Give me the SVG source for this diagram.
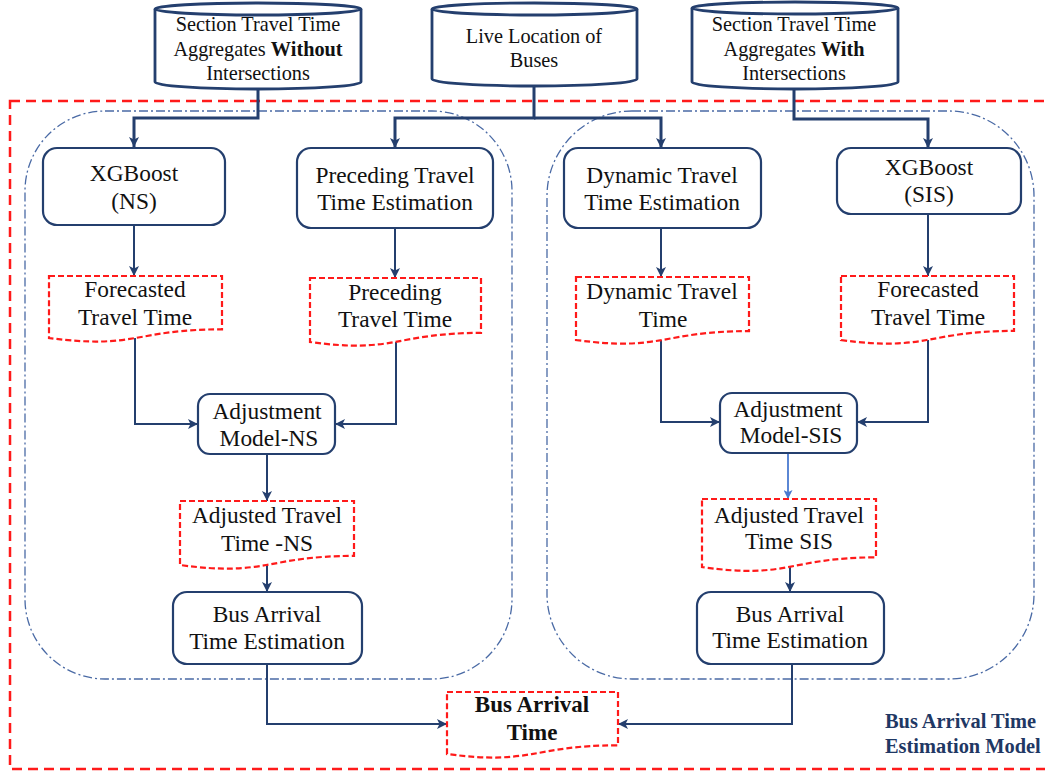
<svg xmlns="http://www.w3.org/2000/svg" width="1045" height="774" viewBox="0 0 1045 774" font-family="'Liberation Serif', 'DejaVu Serif', serif">
<defs>
<style>
.cyl{fill:#fff;stroke:#243f6e;stroke-width:2.8}
.box{fill:#fff;stroke:#243f6e;stroke-width:2.2}
.doc{fill:#fff;stroke:#ff1a1a;stroke-width:2.2;stroke-dasharray:6 3}
.outer{fill:none;stroke:#ff1a1a;stroke-width:2.5;stroke-dasharray:10 6}
.grp{fill:none;stroke:#4a6aa5;stroke-width:1.3;stroke-dasharray:9 3 2 3}
.c{fill:none;stroke:#243f6e;stroke-width:2}
.ct{fill:none;stroke:#243f6e;stroke-width:3}
.cb{fill:none;stroke:#4a7ad0;stroke-width:1.8}
text{font-family:'Liberation Serif','DejaVu Serif',serif;fill:#111;text-anchor:middle}
.t20{font-size:20.3px}
.t23{font-size:23.4px}
.tb{font-size:23px;font-weight:bold}
.b{font-weight:bold}
.lab{font-size:20.4px;font-weight:bold;fill:#1f3864;text-anchor:start}
</style>
<marker id="ah" viewBox="0 0 10 10" refX="10" refY="5" markerWidth="10" markerHeight="10" markerUnits="userSpaceOnUse" orient="auto">
<path d="M0,0 L10,5 L0,10 L2.5,5 Z" fill="#243f6e"/>
</marker>
<marker id="ahb" viewBox="0 0 10 10" refX="10" refY="5" markerWidth="9" markerHeight="9" markerUnits="userSpaceOnUse" orient="auto">
<path d="M0,0 L10,5 L0,10 L2.5,5 Z" fill="#4a7ad0"/>
</marker>
</defs>
<rect width="1045" height="774" fill="#fff"/>

<g id="containers">
<rect class="outer" x="10" y="101" width="1040" height="668"/>
<rect id="group-ns" class="grp" x="25" y="111" width="487" height="568" rx="80" ry="80"/>
<rect id="group-sis" class="grp" x="547" y="111" width="487" height="568" rx="85" ry="85"/>
</g>

<g id="connectors">
<path class="ct" d="M258,89 V118 H134 V147" marker-end="url(#ah)"/>
<path class="ct" d="M534,85 V118 H395 V148" marker-end="url(#ah)"/>
<path class="ct" d="M534,118 H661 V148" marker-end="url(#ah)"/>
<path class="ct" d="M794,88 V119 H928 V148" marker-end="url(#ah)"/>
<path class="c" d="M134,225 V276" marker-end="url(#ah)"/>
<path class="c" d="M395,228 V278" marker-end="url(#ah)"/>
<path class="c" d="M661,228 V277" marker-end="url(#ah)"/>
<path class="c" d="M928,214 V276" marker-end="url(#ah)"/>
<path class="c" d="M135,338 V424 H198" marker-end="url(#ah)"/>
<path class="c" d="M396,342 V424 H335" marker-end="url(#ah)"/>
<path class="c" d="M661,340 V422 H720" marker-end="url(#ah)"/>
<path class="c" d="M928,340 V422 H857" marker-end="url(#ah)"/>
<path class="c" d="M267,454 V501" marker-end="url(#ah)"/>
<path class="cb" d="M788,453 V499" marker-end="url(#ahb)"/>
<path class="c" d="M267,565 V592" marker-end="url(#ah)"/>
<path class="c" d="M790,567 V592" marker-end="url(#ah)"/>
<path class="c" d="M267,664 V724 H447" marker-end="url(#ah)"/>
<path class="c" d="M792,664 V724 H618" marker-end="url(#ah)"/>
</g>

<g id="db-without">
<path class="cyl" d="M155,9 V82 A103,7 0 0 0 361,82 V9"/>
<ellipse class="cyl" cx="258" cy="9" rx="103" ry="6"/>
<text class="t20" x="258" y="31">Section Travel Time</text>
<text class="t20" x="258" y="56">Aggregates <tspan class="b">Without</tspan></text>
<text class="t20" x="258" y="80">Intersections</text>
</g>

<g id="db-live">
<path class="cyl" d="M432,9 V79 A102.5,7 0 0 0 637,79 V9"/>
<ellipse class="cyl" cx="534.5" cy="9" rx="102.5" ry="6"/>
<text class="t20" x="534" y="43">Live Location of</text>
<text class="t20" x="534" y="67">Buses</text>
</g>

<g id="db-with">
<path class="cyl" d="M692,8 V82 A103,7 0 0 0 898,82 V8"/>
<ellipse class="cyl" cx="795" cy="8" rx="103" ry="6"/>
<text class="t20" x="794" y="31">Section Travel Time</text>
<text class="t20" x="794" y="56">Aggregates <tspan class="b">With</tspan></text>
<text class="t20" x="794" y="80">Intersections</text>
</g>

<g id="xgb-ns">
<rect class="box" x="43" y="148" width="182" height="77" rx="14"/>
<text class="t23" x="134" y="181">XGBoost</text>
<text class="t23" x="134" y="209">(NS)</text>
</g>

<g id="preceding-est">
<rect class="box" x="297" y="148" width="196" height="80" rx="14"/>
<text class="t23" x="395" y="183">Preceding Travel</text>
<text class="t23" x="395" y="210">Time Estimation</text>
</g>

<g id="dynamic-est">
<rect class="box" x="564" y="148" width="197" height="80" rx="14"/>
<text class="t23" x="662" y="183">Dynamic Travel</text>
<text class="t23" x="662" y="210">Time Estimation</text>
</g>

<g id="xgb-sis">
<rect class="box" x="837" y="148" width="184" height="66" rx="14"/>
<text class="t23" x="929" y="175">XGBoost</text>
<text class="t23" x="929" y="202">(SIS)</text>
</g>

<g id="forecast-ns">
<path class="doc" d="M49,276 H222 V329.3 C135.5,329.3 135.5,349.5 49,338 Z"/>
<text class="t23" x="135" y="297">Forecasted</text>
<text class="t23" x="135" y="325">Travel Time</text>
</g>

<g id="preceding-tt">
<path class="doc" d="M310,278 H481 V332.9 C395.5,332.9 395.5,353.8 310,342 Z"/>
<text class="t23" x="395" y="300">Preceding</text>
<text class="t23" x="395" y="327">Travel Time</text>
</g>

<g id="dynamic-tt">
<path class="doc" d="M576,277 H749 V331.1 C662.5,331.1 662.5,351.7 576,340 Z"/>
<text class="t23" x="662" y="299">Dynamic Travel</text>
<text class="t23" x="663" y="327">Time</text>
</g>

<g id="forecast-sis">
<path class="doc" d="M841,276 H1014 V330.9 C927.5,330.9 927.5,351.8 841,340 Z"/>
<text class="t23" x="928" y="297">Forecasted</text>
<text class="t23" x="928" y="325">Travel Time</text>
</g>

<g id="adj-ns">
<rect class="box" x="198" y="394" width="137" height="60" rx="12"/>
<text class="t23" x="267" y="419">Adjustment</text>
<text class="t23" x="269" y="446">Model-NS</text>
</g>

<g id="adj-sis">
<rect class="box" x="720" y="393" width="137" height="60" rx="12"/>
<text class="t23" x="788" y="417">Adjustment</text>
<text class="t23" x="791" y="443">Model-SIS</text>
</g>

<g id="adjusted-ns">
<path class="doc" d="M180,501 H354 V555.9 C267,555.9 267,576.8 180,565 Z"/>
<text class="t23" x="267" y="523">Adjusted Travel</text>
<text class="t23" x="267" y="551">Time -NS</text>
</g>

<g id="adjusted-sis">
<path class="doc" d="M702,499 H876 V557.4 C789,557.4 789,579.6 702,567 Z"/>
<text class="t23" x="789" y="523">Adjusted Travel</text>
<text class="t23" x="789" y="549">Time SIS</text>
</g>

<g id="bat-ns">
<rect class="box" x="173" y="592" width="189" height="72" rx="14"/>
<text class="t23" x="267" y="622">Bus Arrival</text>
<text class="t23" x="267" y="649">Time Estimation</text>
</g>

<g id="bat-sis">
<rect class="box" x="697" y="592" width="187" height="72" rx="14"/>
<text class="t23" x="790" y="622">Bus Arrival</text>
<text class="t23" x="790" y="648">Time Estimation</text>
</g>

<g id="bus-arrival-time">
<path class="doc" d="M447,692 H618 V745.3 C532.5,745.3 532.5,765.5 447,754 Z"/>
<text class="tb" x="532" y="712">Bus Arrival</text>
<text class="tb" x="532" y="740">Time</text>
</g>

<g id="label">
<text class="lab" x="885" y="728">Bus Arrival Time</text>
<text class="lab" x="885" y="753">Estimation Model</text>
</g>
</svg>
